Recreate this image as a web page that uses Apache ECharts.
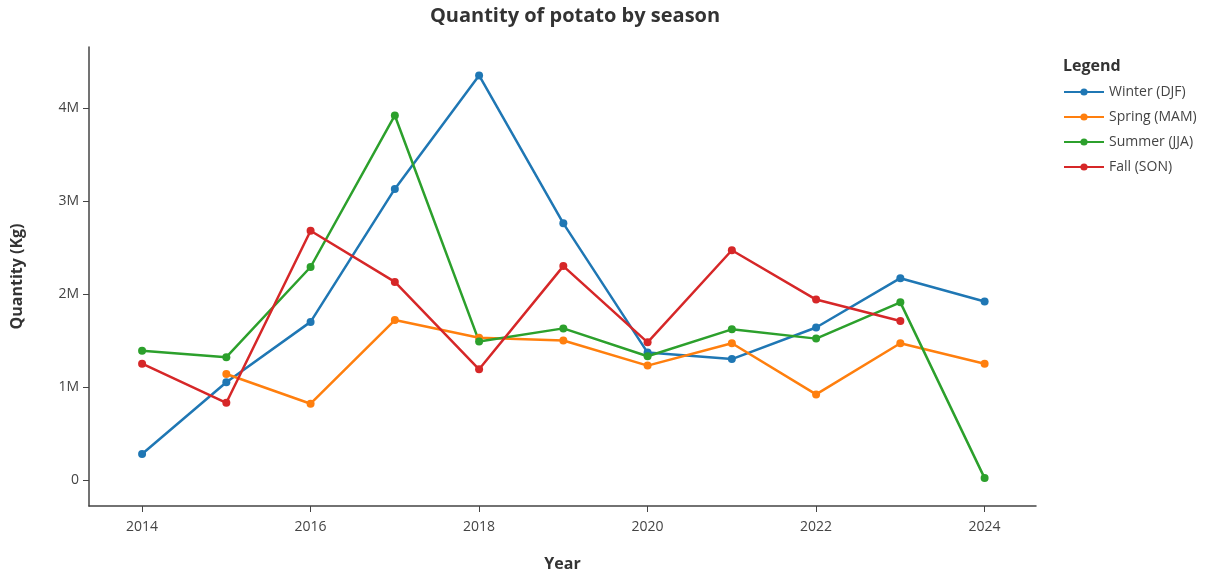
<!DOCTYPE html>
<html>
<head>
<meta charset="utf-8">
<script src="https://cdn.jsdelivr.net/npm/echarts@6/dist/echarts.min.js"></script>
<style>html,body{margin:0;padding:0;background:#fff}#c{width:1218px;height:579px}</style>
</head>
<body>
<div id="c"></div>
<script>
const years = [2014, 2015, 2016, 2017, 2018, 2019, 2020, 2021, 2022, 2023, 2024];
const winter = [0.28e6, 1.05e6, 1.70e6, 3.13e6, 4.35e6, 2.76e6, 1.37e6, 1.30e6, 1.64e6, 2.17e6, 1.92e6];
const spring = [null, 1.14e6, 0.82e6, 1.72e6, 1.53e6, 1.50e6, 1.23e6, 1.47e6, 0.92e6, 1.47e6, 1.25e6];
const summer = [1.39e6, 1.32e6, 2.29e6, 3.92e6, 1.49e6, 1.63e6, 1.33e6, 1.62e6, 1.52e6, 1.91e6, 0.02e6];
const fall = [1.25e6, 0.83e6, 2.68e6, 2.13e6, 1.19e6, 2.30e6, 1.48e6, 2.47e6, 1.94e6, 1.71e6, null];
const seriesNames = ['Winter (DJF)', 'Spring (MAM)', 'Summer (JJA)', 'Fall (SON)'];
const colors = ['#1f77b4', '#ff7f0e', '#2ca02c', '#d62728'];
const xTicks = [2014, 2016, 2018, 2020, 2022, 2024];
const yTicks = [0, 1e6, 2e6, 3e6, 4e6];

const font = '"Open Sans", "Noto Sans", sans-serif';
const allData = [winter, spring, summer, fall];

function pairs(arr) {
  const out = [];
  arr.forEach((v, i) => { if (v !== null) out.push([years[i], v]); });
  return out;
}

const chart = echarts.init(document.getElementById('c'), null, {renderer: 'canvas'});
chart.setOption({
  animation: false,
  color: colors,
  textStyle: {fontFamily: font},
  title: [
    {text: 'Quantity of potato by season', left: 570, textAlign: 'center', top: 1,
     textStyle: {fontFamily: font, fontSize: 20, fontWeight: 'bold', color: '#333'}},
    {text: 'Legend', left: 1058, top: 53,
     textStyle: {fontFamily: font, fontSize: 16, fontWeight: 'bold', color: '#333'}}
  ],
  legend: {
    orient: 'vertical', left: 1058, top: 80, itemWidth: 40, itemHeight: 9, itemGap: 11,
    textStyle: {fontFamily: font, fontSize: 14, color: '#444'},
    data: seriesNames
  },
  grid: {left: 89, right: 182, top: 47, bottom: 73, containLabel: false},
  xAxis: {
    type: 'value', min: 2013.37, max: 2024.61,
    name: 'Year', nameLocation: 'middle', nameGap: 50,
    nameTextStyle: {fontFamily: font, fontSize: 16, fontWeight: 'bold', color: '#333'},
    axisLine: {show: true, onZero: false, lineStyle: {color: '#444', width: 1.5}},
    axisTick: {show: true, length: 6, customValues: xTicks, lineStyle: {color: '#444'}},
    axisLabel: {customValues: xTicks, margin: 14, fontSize: 14, color: '#444', fontFamily: font,
      formatter: v => String(v)},
    splitLine: {show: false}
  },
  yAxis: {
    type: 'value', min: -0.28e6, max: 4.656e6,
    name: 'Quantity (Kg)', nameLocation: 'middle', nameGap: 64, nameRotate: 90,
    nameTextStyle: {fontFamily: font, fontSize: 16, fontWeight: 'bold', color: '#333'},
    axisLine: {show: true, onZero: false, lineStyle: {color: '#444', width: 1.5}},
    axisTick: {show: true, length: 6, customValues: yTicks, lineStyle: {color: '#444'}},
    axisLabel: {customValues: yTicks, margin: 10, fontSize: 14, color: '#444', fontFamily: font,
      formatter: v => v === 0 ? '0' : (v / 1e6) + 'M'},
    splitLine: {show: false}
  },
  series: seriesNames.map((n, i) => ({
    name: n, type: 'line', data: pairs(allData[i]),
    symbol: 'circle', symbolSize: 8, showSymbol: true,
    lineStyle: {width: 2.5, color: colors[i]},
    itemStyle: {color: colors[i]}
  }))
});
</script>
</body>
</html>
